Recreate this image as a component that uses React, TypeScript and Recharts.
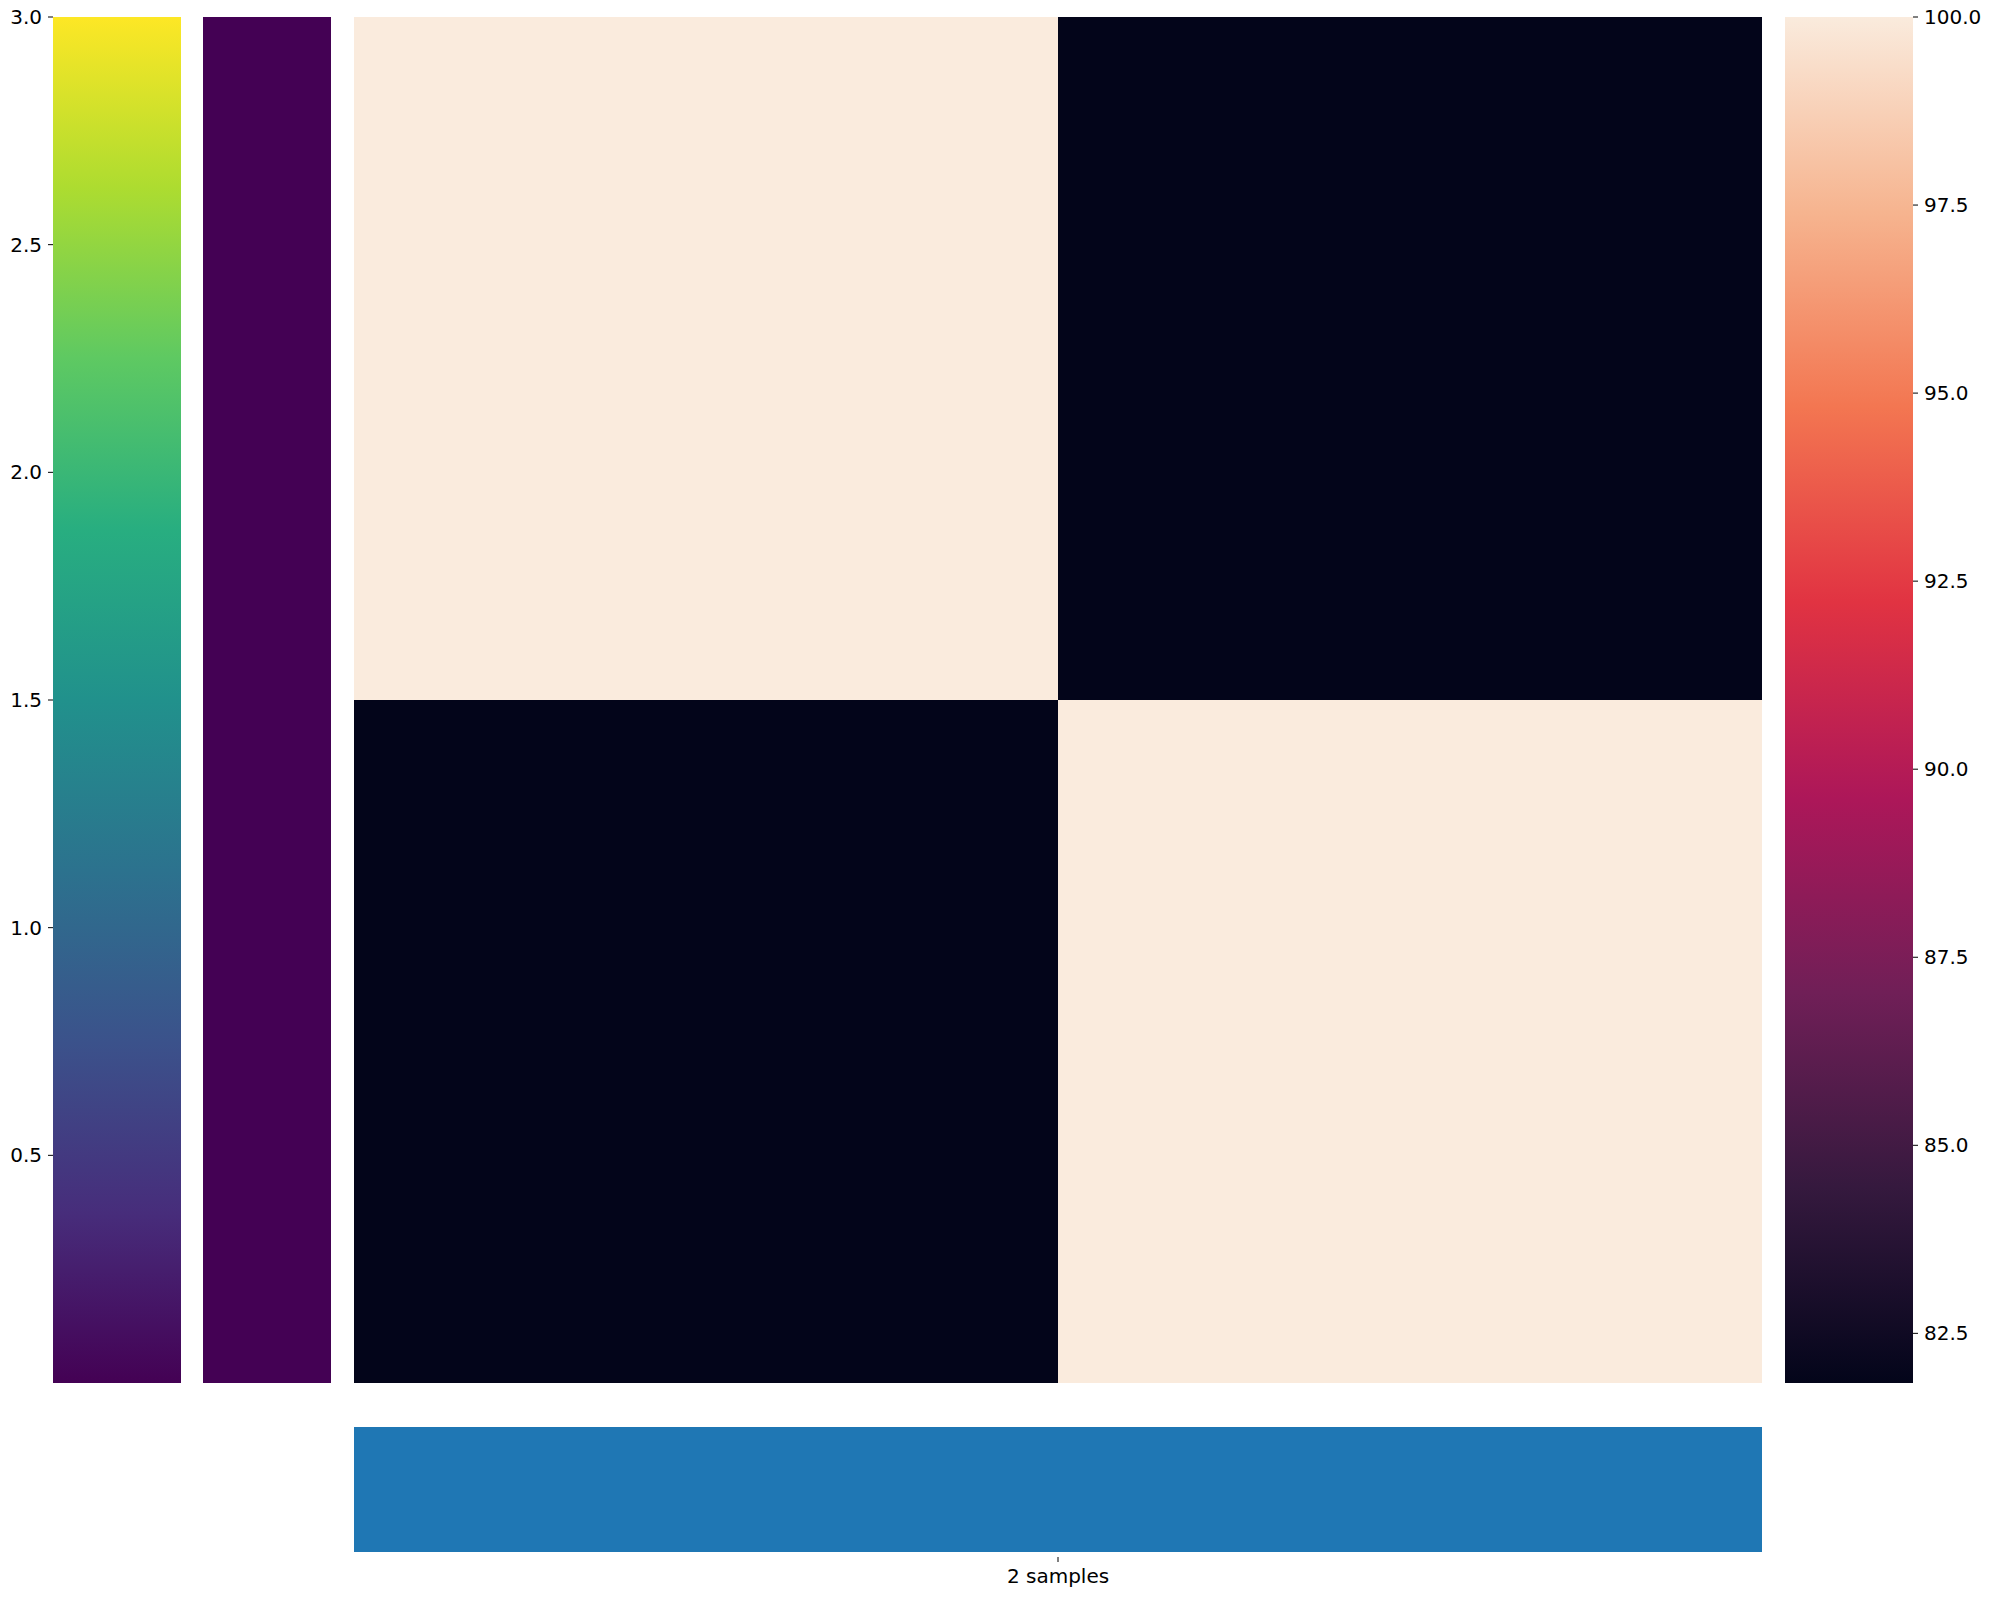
import { BarChart, Bar, XAxis, YAxis, Cell } from 'recharts';

// values
const rowExtent = [0, 3];
const leftTicks = [0.5, 1.0, 1.5, 2.0, 2.5, 3.0];
const sampleNames = ['sample A', 'sample B'];
const topRow = [100, 81.84];
const bottomRow = [81.84, 100];
const scaleMin = 81.84;
const scaleMax = 100;
const rightTicks = [82.5, 85.0, 87.5, 90.0, 92.5, 95.0, 97.5, 100.0];
const groupLabels = ['2 samples'];
const groupValues = [1];

const viridis = ['#440154', '#472d7b', '#3b528b', '#2c728e', '#21918c', '#28ae80', '#5ec962', '#addc30', '#fde725'];
const rocket = ['#03051a', '#35193e', '#701f57', '#ad1759', '#e13342', '#f37651', '#f6b48f', '#faebdd'];

const font = { fontSize: 20, fontFamily: 'DejaVu Sans', fill: '#000' };

function hexToRgb(h: string) {
  return [1, 3, 5].map((i) => parseInt(h.slice(i, i + 2), 16));
}

function colorAt(stops: string[], t: number) {
  const x = Math.max(0, Math.min(1, t)) * (stops.length - 1);
  const i = Math.min(stops.length - 2, Math.floor(x));
  const f = x - i;
  const a = hexToRgb(stops[i]);
  const b = hexToRgb(stops[i + 1]);
  const c = a.map((v, k) => Math.round(v + (b[k] - v) * f));
  return `rgb(${c[0]},${c[1]},${c[2]})`;
}

const cellColor = (v: number) => colorAt(rocket, (v - scaleMin) / (scaleMax - scaleMin));

function Gradient({ id, stops }: { id: string; stops: string[] }) {
  return (
    <linearGradient id={id} x1="0" y1="1" x2="0" y2="0">
      {stops.map((c, i) => (
        <stop key={i} offset={i / (stops.length - 1)} stopColor={c} />
      ))}
    </linearGradient>
  );
}

const vMargin = { top: 17, right: 0, bottom: 17, left: 0 };

export default function App() {
  const barData = [{ name: 'rows', value: rowExtent[1] }];
  const heatData = sampleNames.map((name, i) => ({
    name,
    lower: rowExtent[1] / 2,
    upper: rowExtent[1] / 2,
    lowerVal: bottomRow[i],
    upperVal: topRow[i],
  }));
  const scaleData = [{ name: 'scale', range: [scaleMin, scaleMax] }];
  const groupData = groupLabels.map((name, i) => ({ name, value: groupValues[i] }));

  return (
    <div style={{ position: 'absolute', left: 0, top: 0, width: 1992, height: 1597, background: '#fff' }}>
      {/* viridis bar with the row axis */}
      <div style={{ position: 'absolute', left: 0, top: 0 }}>
        <BarChart width={181} height={1400} data={barData} margin={vMargin} barCategoryGap={0}>
          <defs>
            <Gradient id="viridisGrad" stops={viridis} />
          </defs>
          <XAxis dataKey="name" hide />
          <YAxis
            type="number"
            domain={rowExtent}
            ticks={leftTicks}
            tickFormatter={(v: number) => v.toFixed(1)}
            width={53}
            axisLine={false}
            tickSize={5}
            tickMargin={6}
            tickLine={{ stroke: '#000' }}
            tick={font}
          />
          <Bar dataKey="value" fill="url(#viridisGrad)" isAnimationActive={false} />
        </BarChart>
      </div>

      {/* single-colour annotation column */}
      <div style={{ position: 'absolute', left: 203, top: 0 }}>
        <BarChart width={128} height={1400} data={barData} margin={vMargin} barCategoryGap={0}>
          <XAxis dataKey="name" hide />
          <YAxis type="number" domain={rowExtent} hide />
          <Bar dataKey="value" fill={viridis[0]} isAnimationActive={false} />
        </BarChart>
      </div>

      {/* heatmap 2x2 */}
      <div style={{ position: 'absolute', left: 354, top: 0 }}>
        <BarChart width={1408} height={1400} data={heatData} margin={vMargin} barCategoryGap={0}>
          <XAxis dataKey="name" hide />
          <YAxis type="number" domain={rowExtent} hide />
          <Bar dataKey="lower" stackId="h" isAnimationActive={false}>
            {heatData.map((d, i) => (
              <Cell key={i} fill={cellColor(d.lowerVal)} />
            ))}
          </Bar>
          <Bar dataKey="upper" stackId="h" isAnimationActive={false}>
            {heatData.map((d, i) => (
              <Cell key={i} fill={cellColor(d.upperVal)} />
            ))}
          </Bar>
        </BarChart>
      </div>

      {/* rocket colour scale */}
      <div style={{ position: 'absolute', left: 1785, top: 0 }}>
        <BarChart width={207} height={1400} data={scaleData} margin={vMargin} barCategoryGap={0}>
          <defs>
            <Gradient id="rocketGrad" stops={rocket} />
          </defs>
          <XAxis dataKey="name" hide />
          <YAxis
            orientation="right"
            type="number"
            domain={[scaleMin, scaleMax]}
            allowDataOverflow
            ticks={rightTicks}
            tickFormatter={(v: number) => v.toFixed(1)}
            width={79}
            axisLine={false}
            tickSize={5}
            tickMargin={6}
            tickLine={{ stroke: '#000' }}
            tick={{ ...font, textAnchor: 'start' }}
          />
          <Bar dataKey="range" fill="url(#rocketGrad)" isAnimationActive={false} />
        </BarChart>
      </div>

      {/* group bar below */}
      <div style={{ position: 'absolute', left: 354, top: 1427 }}>
        <BarChart width={1408} height={170} data={groupData} margin={{ top: 0, right: 0, bottom: 0, left: 0 }} barCategoryGap={0}>
          <XAxis
            dataKey="name"
            height={40}
            axisLine={false}
            tickSize={5}
            tickMargin={7}
            tickLine={{ stroke: '#000' }}
            tick={font}
            interval={0}
          />
          <YAxis type="number" domain={[-0.04, 1]} hide />
          <Bar dataKey="value" fill="#1f77b4" isAnimationActive={false} />
        </BarChart>
      </div>
    </div>
  );
}
